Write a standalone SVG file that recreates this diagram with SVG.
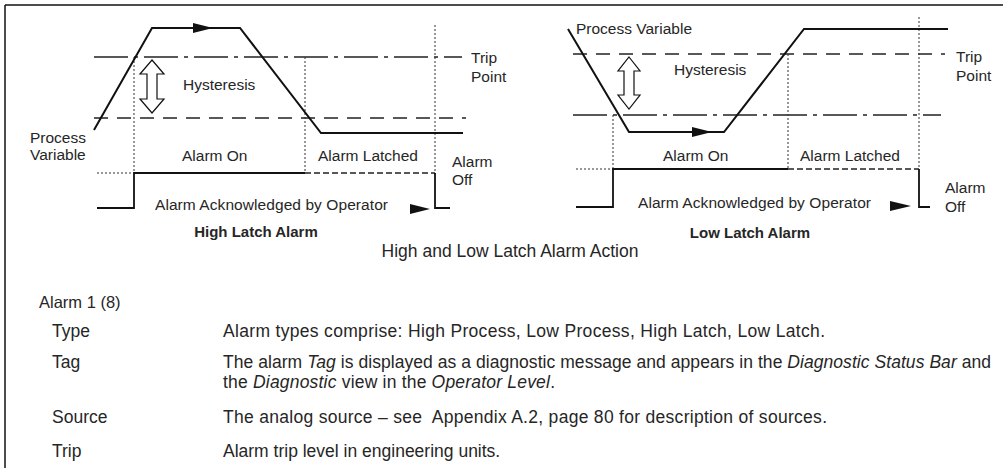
<svg xmlns="http://www.w3.org/2000/svg" width="1005" height="468" viewBox="0 0 1005 468">
<style>
text{font-family:"Liberation Sans",Arial,sans-serif;fill:#262626}
.lbl{font-size:15.5px}
.bold{font-size:15px;font-weight:bold}
.tbl{font-size:17.5px}
.head{font-size:16.5px}
.frame{stroke:#111;stroke-width:1.5;fill:none}
.pv{stroke:#111;stroke-width:2;fill:none}
.dd{stroke:#222;stroke-width:1.5;fill:none;stroke-dasharray:34,6,4,6}
.da{stroke:#222;stroke-width:1.5;fill:none;stroke-dasharray:14,9}
.dot{stroke:#333;stroke-width:1;fill:none;stroke-dasharray:2,2}
.sig{stroke:#111;stroke-width:1.8;fill:none}
.sigd{stroke:#222;stroke-width:1.5;fill:none;stroke-dasharray:6,3}
.harr{stroke:#111;stroke-width:1.2;fill:#fff}
.tri{fill:#111}
</style>
<g id="frame">
<line class="frame" x1="5" y1="5" x2="1003" y2="5"/>
<line class="frame" x1="5" y1="5" x2="5" y2="468"/>
</g>
<g id="high-latch">
<line class="dd" x1="94" y1="57" x2="462" y2="57"/>
<line class="da" x1="94" y1="118" x2="466" y2="118"/>
<line class="dot" x1="134" y1="57" x2="134" y2="173"/>
<line class="dot" x1="305" y1="57" x2="305" y2="173"/>
<line class="dot" x1="435" y1="25" x2="435" y2="175"/>
<polyline class="pv" points="94,130 152,28 240,28 321,133 463,133"/>
<polygon class="tri" points="193,23 213,28 193,33"/>
<polygon class="harr" points="152,60 164,74 157,74 157,99 164,99 152,113 140,99 147,99 147,74 140,74"/>
<line class="dot" x1="97" y1="173" x2="134" y2="173"/>
<polyline class="sig" points="97,208 134,208 134,173 305,173"/>
<line class="sigd" x1="305" y1="173" x2="435" y2="173"/>
<polyline class="sig" points="435,173 435,208 450,208"/>
<polygon class="tri" points="410,204 430,209 410,214"/>
<text class="lbl" x="183" y="90">Hysteresis</text>
<text class="lbl" x="30" y="143">Process</text>
<text class="lbl" x="30" y="160">Variable</text>
<text class="lbl" x="182" y="161">Alarm On</text>
<text class="lbl" x="318" y="161">Alarm Latched</text>
<text class="lbl" x="452" y="167">Alarm</text>
<text class="lbl" x="452" y="185">Off</text>
<text class="lbl" x="471" y="63">Trip</text>
<text class="lbl" x="471" y="82">Point</text>
<text class="lbl" x="155" y="210" textLength="233">Alarm Acknowledged by Operator</text>
<text class="bold" x="256" y="237" text-anchor="middle">High Latch Alarm</text>
</g>
<g id="low-latch">
<line class="da" x1="573" y1="54" x2="945" y2="54"/>
<line class="dd" x1="573" y1="115" x2="941" y2="115"/>
<line class="dot" x1="613" y1="115" x2="613" y2="169"/>
<line class="dot" x1="788" y1="54" x2="788" y2="169"/>
<line class="dot" x1="919" y1="17" x2="919" y2="169"/>
<polyline class="pv" points="568,29 629,132 724,132 804,29 948,29"/>
<polygon class="tri" points="692,127 712,132 692,137"/>
<polygon class="harr" points="629,57 640,71 634,71 634,95 640,95 629,109 618,95 624,95 624,71 618,71"/>
<line class="dot" x1="576" y1="169" x2="613" y2="169"/>
<polyline class="sig" points="576,207 613,207 613,169 788,169"/>
<line class="sigd" x1="788" y1="169" x2="919" y2="169"/>
<polyline class="sig" points="919,169 919,207 930,207"/>
<polygon class="tri" points="890,201 911,206 890,211"/>
<text class="lbl" x="576" y="34">Process Variable</text>
<text class="lbl" x="674" y="75">Hysteresis</text>
<text class="lbl" x="663" y="161">Alarm On</text>
<text class="lbl" x="800" y="161">Alarm Latched</text>
<text class="lbl" x="945" y="193">Alarm</text>
<text class="lbl" x="945" y="212">Off</text>
<text class="lbl" x="956" y="62">Trip</text>
<text class="lbl" x="956" y="81">Point</text>
<text class="lbl" x="638" y="208" textLength="233">Alarm Acknowledged by Operator</text>
<text class="bold" x="750" y="238" text-anchor="middle">Low Latch Alarm</text>
</g>
<g id="caption">
<text class="tbl" x="510" y="257" text-anchor="middle">High and Low Latch Alarm Action</text>
</g>
<g id="table">
<text class="head" x="39" y="308">Alarm 1 (8)</text>
<text class="tbl" x="52" y="337">Type</text>
<text class="tbl" x="223" y="337" textLength="602">Alarm types comprise: High Process, Low Process, High Latch, Low Latch.</text>
<text class="tbl" x="52" y="368">Tag</text>
<text class="tbl" x="223" y="368" textLength="768">The alarm <tspan font-style="italic">Tag</tspan> is displayed as a diagnostic message and appears in the <tspan font-style="italic">Diagnostic Status Bar</tspan> and</text>
<text class="tbl" x="223" y="388" textLength="332">the <tspan font-style="italic">Diagnostic</tspan> view in the <tspan font-style="italic">Operator Level</tspan>.</text>
<text class="tbl" x="52" y="423">Source</text>
<text class="tbl" x="223" y="423" textLength="604" xml:space="preserve">The analog source – see  Appendix A.2, page 80 for description of sources.</text>
<text class="tbl" x="52" y="457">Trip</text>
<text class="tbl" x="223" y="457">Alarm trip level in engineering units.</text>
</g>
</svg>
